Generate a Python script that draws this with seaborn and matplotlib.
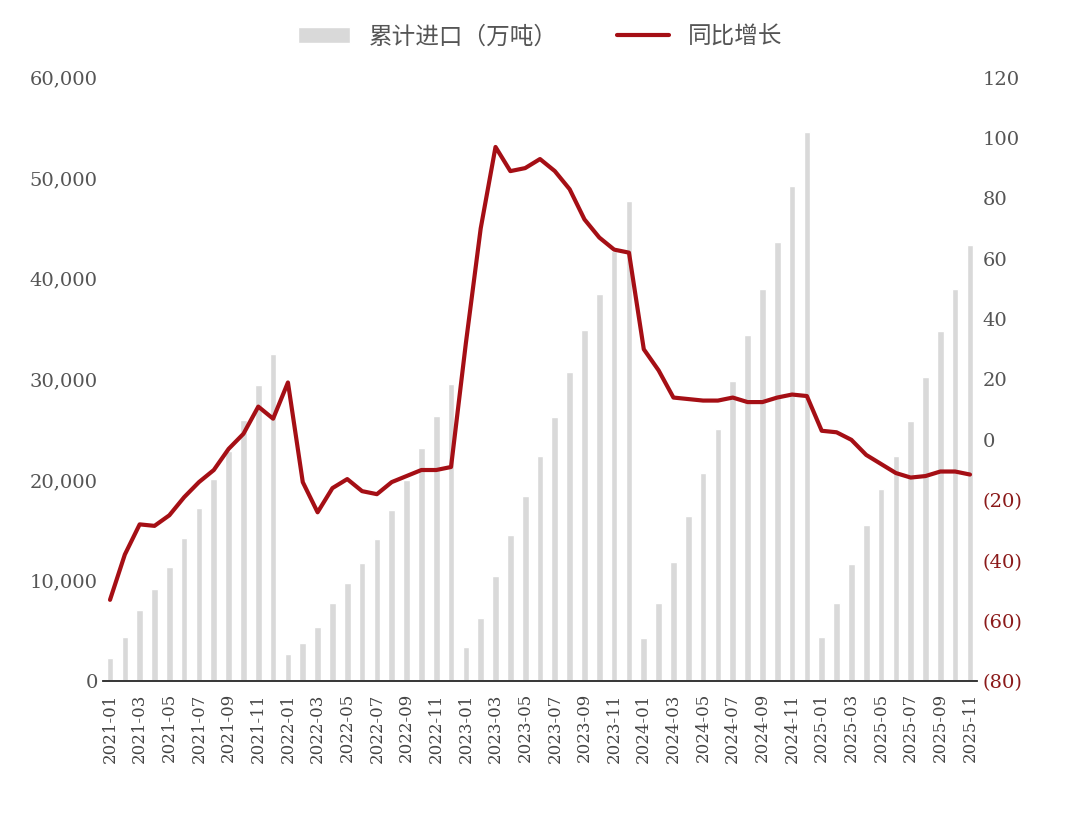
import matplotlib
matplotlib.use("Agg")
import matplotlib.pyplot as plt
import seaborn as sns
import pandas as pd
import numpy as np

sns.set_theme(style="white")
plt.rcParams['font.family'] = ['Noto Sans CJK SC', 'DejaVu Sans']

months = pd.period_range("2021-01", "2025-11", freq="M").strftime("%Y-%m").tolist()
imports = [2300, 4400, 7100, 9200, 11400, 14200, 17200, 20100, 22900, 26000, 29400, 32500,
           2700, 3800, 5400, 7800, 9800, 11800, 14100, 17000, 20000, 23200, 26400, 29500,
           3400, 6300, 10500, 14500, 18400, 22400, 26300, 30700, 34900, 38500, 42800, 47700,
           4300, 7800, 11900, 16400, 20700, 25100, 29800, 34400, 39000, 43700, 49200, 54600,
           4400, 7800, 11700, 15500, 19100, 22400, 25900, 30200, 34800, 39000, 43400]
yoy = [-53, -38, -28, -28.5, -25, -19, -14, -10, -3, 2, 11, 7,
       19, -14, -24, -16, -13, -17, -18, -14, -12, -10, -10, -9,
       32, 70, 97, 89, 90, 93, 89, 83, 73, 67, 63, 62,
       30, 23, 14, 13.5, 13, 13, 14, 12.5, 12.5, 14, 15, 14.5,
       3, 2.5, 0, -5, -8, -11, -12.5, -12, -10.5, -10.5, -11.5]

df = pd.DataFrame({"m": months, "imp": imports, "yoy": yoy})
x = np.arange(len(months))

fig, ax = plt.subplots(figsize=(10.8, 8.16), dpi=100)
fig.subplots_adjust(left=0.095, right=0.905, top=0.905, bottom=0.165)
sns.barplot(data=df, x="m", y="imp", color="#d9d9d9", width=0.45, ax=ax, saturation=1,
            label="累计进口（万吨）", legend=False)
ax2 = ax.twinx()
ax2.plot(x, yoy, color="#a50f15", lw=3, label="同比增长")

ax.set_ylim(0, 60000)
ax.set_yticks(range(0, 60001, 10000))
ax.set_yticklabels([f"{v:,}" for v in range(0, 60001, 10000)], family="DejaVu Serif", fontsize=14, color="#555555")
ax2.set_ylim(-80, 120)
rt = list(range(-80, 121, 20))
ax2.set_yticks(rt)
ax2.set_yticklabels([f"({-v})" if v < 0 else str(v) for v in rt], family="DejaVu Serif", fontsize=14)
for lab, v in zip(ax2.get_yticklabels(), rt):
    lab.set_color("#8b1a1a" if v < 0 else "#555555")
ax.set_xlim(-0.5, len(months) - 0.5)
ax.set_xticks(x[::2])
ax.set_xticklabels(months[::2], rotation=90, family="DejaVu Serif", fontsize=12, color="#444444")
ax.set_xlabel(""); ax.set_ylabel("")
for a in (ax, ax2):
    for s in ["top", "left", "right"]:
        a.spines[s].set_visible(False)
    a.tick_params(length=0)
ax.spines["bottom"].set_color("#bbbbbb")
ax.tick_params(axis="x", length=5, color="#bbbbbb", direction="out")
if ax.get_legend() is not None:
    ax.get_legend().remove()

h1, l1 = ax.get_legend_handles_labels()
h2, l2 = ax2.get_legend_handles_labels()
fig.legend(h1 + h2, l1 + l2, loc="upper center", bbox_to_anchor=(0.5, 0.995), ncol=2, frameon=False,
           fontsize=17, labelcolor="#555555", handlelength=2.2, columnspacing=2.5)
fig.savefig("out.png", dpi=100)
